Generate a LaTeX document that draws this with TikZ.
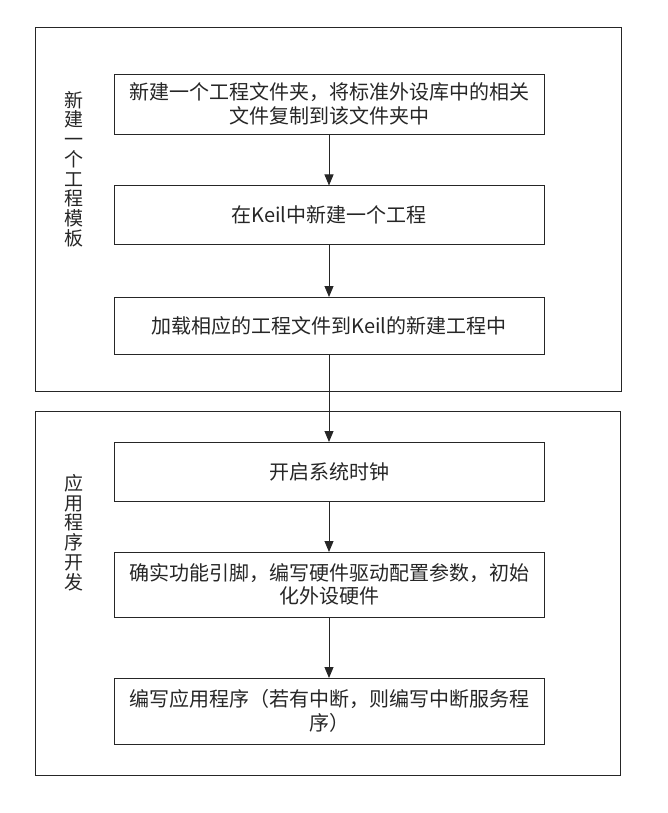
\documentclass[tikz,border=0pt]{standalone}
\usepackage{fontspec}
\setmainfont{Noto Sans CJK SC}
\usepackage{tikz}
\usetikzlibrary{arrows.meta, positioning}

\tikzset{
  stepbox/.style={draw=black!85, line width=0.9pt, minimum width=430pt, outer sep=0pt,
    align=center, text=black!85, font=\fontsize{20pt}{23.5pt}\selectfont},
  framebox/.style={draw=black!85, line width=0.9pt, minimum height=364pt, outer sep=0pt},
  sidelabel/.style={align=center, text=black!85, font=\fontsize{19pt}{19.7pt}\selectfont},
  flow/.style={-{Triangle[length=11pt,width=9pt]}, line width=0.9pt, black!85}
}

\begin{document}
\begin{tikzpicture}[x=1pt, y=-1pt]
    \useasboundingbox (0,0) rectangle (668,813);

    % 两个阶段的外框
    \node[framebox, minimum width=586pt] (frameA) at (328,209) {};
    \node[framebox, minimum width=585pt] (frameB) at (327.5,593) {};

    % 阶段名称,竖排
    \node[sidelabel] (labelA) at (74,169) {新\\建\\一\\个\\工\\程\\模\\板};
    \node[sidelabel] (labelB) at (74,532.5) {应\\用\\程\\序\\开\\发};

    % 新建工程模板的步骤
    \node[stepbox, minimum height=60pt] (newdir) at (329,104)
        {新建一个工程文件夹，将标准外设库中的相关\\文件复制到该文件夹中};
    \node[stepbox, minimum height=59pt] (newproj) at (329,215) {在Keil中新建一个工程};
    \node[stepbox, minimum height=57pt] (addfiles) at (329,325.5) {加载相应的工程文件到Keil的新建工程中};

    % 应用程序开发的步骤
    \node[stepbox, minimum height=59pt] (clock) at (329,471.5) {开启系统时钟};
    \node[stepbox, minimum height=65pt] (initpins) at (329,584.5)
        {确实功能引脚，编写硬件驱动配置参数，初始\\化外设硬件};
    \node[stepbox, minimum height=66pt] (appcode) at (329,711)
        {编写应用程序（若有中断，则编写中断服务程\\序）};

    % 各步骤之间的箭头
    \draw[flow] (newdir) -- (newproj);
    \draw[flow] (newproj) -- (addfiles);
    \draw[flow] (addfiles) -- (clock);
    \draw[flow] (clock) -- (initpins);
    \draw[flow] (initpins) -- (appcode);
  \end{tikzpicture}
\end{document}
